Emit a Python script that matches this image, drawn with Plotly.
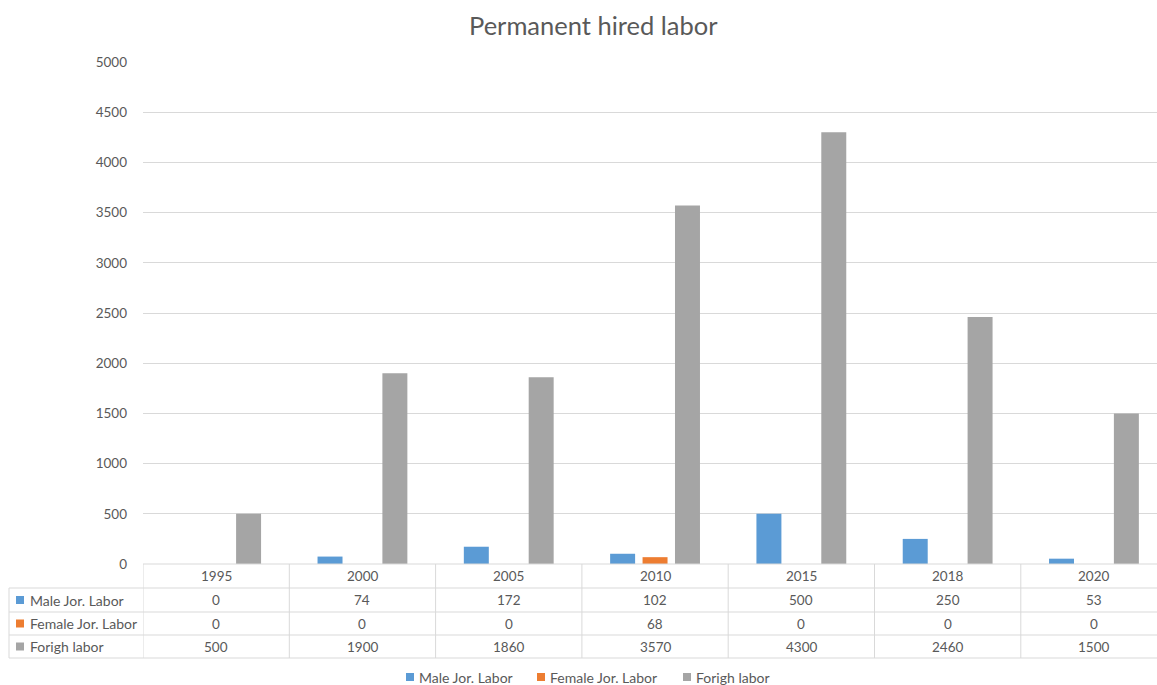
import plotly.graph_objects as go

years = ["1995", "2000", "2005", "2010", "2015", "2018", "2020"]
male = [0, 74, 172, 102, 500, 250, 53]
female = [0, 0, 0, 68, 0, 0, 0]
foreign = [500, 1900, 1860, 3570, 4300, 2460, 1500]
series_names = ["Male Jor. Labor", "Female Jor. Labor", "Forigh labor"]
series_vals = [male, female, foreign]
colors = ["#5B9BD5", "#ED7D31", "#A5A5A5"]

FIG_W, FIG_H = 1157, 685
L, T, B_PX = 143, 62, 564
W = FIG_W - L
H = B_PX - T
CAT_W = 146.3
FONT = "Lato"
TXT = "#595959"
LINE = "#D9D9D9"
NUM_SIZE = 13.5
LBL_SIZE = 14


def px_x(p):
    return (p - L) / W


def px_y(p):
    return (B_PX - p) / H


fig = go.Figure()
for name, vals, c in zip(series_names, series_vals, colors):
    fig.add_trace(go.Bar(x=years, y=vals, name=name, marker_color=c,
                         marker_line_width=0, showlegend=False))

shapes = []
annotations = []

# table geometry (pixels)
row_lines = [564, 588, 612, 635, 658]
row_centers = [576, 600, 623.5, 646.5]
left_px = 9

# horizontal lines
shapes.append(dict(type="line", xref="paper", yref="paper", x0=0, x1=1.05,
                   y0=px_y(row_lines[0]), y1=px_y(row_lines[0]),
                   line=dict(color=LINE, width=1)))
for rl in row_lines[1:]:
    shapes.append(dict(type="line", xref="paper", yref="paper",
                       x0=px_x(left_px), x1=1.05, y0=px_y(rl), y1=px_y(rl),
                       line=dict(color=LINE, width=1)))
# left vertical line
shapes.append(dict(type="line", xref="paper", yref="paper",
                   x0=px_x(left_px), x1=px_x(left_px),
                   y0=px_y(row_lines[1]), y1=px_y(row_lines[-1]),
                   line=dict(color=LINE, width=1)))
# column lines
for k in range(len(years) + 1):
    shapes.append(dict(type="line", xref="x", yref="paper",
                       x0=k - 0.5, x1=k - 0.5,
                       y0=px_y(row_lines[0]), y1=px_y(row_lines[-1]),
                       line=dict(color=LINE, width=1)))

# header years
for i, yr in enumerate(years):
    annotations.append(dict(x=i, y=px_y(row_centers[0]), xref="x", yref="paper",
                            text=yr, showarrow=False, yanchor="middle",
                            font=dict(family=FONT, size=NUM_SIZE, color=TXT)))
# rows
for r, (name, vals, c) in enumerate(zip(series_names, series_vals, colors)):
    yc = row_centers[r + 1]
    shapes.append(dict(type="rect", xref="paper", yref="paper",
                       x0=px_x(16), x1=px_x(24), y0=px_y(yc + 4), y1=px_y(yc - 4),
                       fillcolor=c, line=dict(width=0)))
    annotations.append(dict(x=px_x(28), y=px_y(yc), xref="paper", yref="paper",
                            text=name, showarrow=False, xanchor="left", yanchor="middle",
                            font=dict(family=FONT, size=LBL_SIZE, color=TXT)))
    for i, v in enumerate(vals):
        annotations.append(dict(x=i, y=px_y(yc), xref="x", yref="paper",
                                text=str(v), showarrow=False, yanchor="middle",
                                font=dict(family=FONT, size=NUM_SIZE, color=TXT)))

# legend (bottom)
legend_y = 677
legend_keys = [406, 537, 683]
for name, c, kx in zip(series_names, colors, legend_keys):
    shapes.append(dict(type="rect", xref="paper", yref="paper",
                       x0=px_x(kx), x1=px_x(kx + 8),
                       y0=px_y(legend_y + 4), y1=px_y(legend_y - 4),
                       fillcolor=c, line=dict(width=0)))
    annotations.append(dict(x=px_x(kx + 11), y=px_y(legend_y), xref="paper", yref="paper",
                            text=name, showarrow=False, xanchor="left", yanchor="middle",
                            font=dict(family=FONT, size=LBL_SIZE, color=TXT)))

# title
annotations.append(dict(x=px_x(593), y=px_y(25), xref="paper", yref="paper",
                        text="Permanent hired labor", showarrow=False, yanchor="middle",
                        font=dict(family=FONT, size=25.5, color=TXT)))

fig.update_layout(
    width=FIG_W, height=FIG_H,
    margin=dict(l=L, r=0, t=T, b=FIG_H - B_PX, pad=0),
    paper_bgcolor="white", plot_bgcolor="white",
    barmode="group", bargap=0.335, bargroupgap=0.23,
    shapes=shapes, annotations=annotations,
    font=dict(family=FONT, color=TXT),
    xaxis=dict(type="category", range=[-0.5, -0.5 + W / CAT_W],
               showticklabels=False, showgrid=False, zeroline=False,
               showline=False, ticks=""),
    yaxis=dict(range=[0, 5000], dtick=500, showgrid=True, gridcolor=LINE,
               gridwidth=1, zeroline=False, showline=False, ticks="",
               ticklabelstandoff=15,
               tickfont=dict(family=FONT, size=NUM_SIZE, color=TXT)),
)

fig.write_html("out.html")
